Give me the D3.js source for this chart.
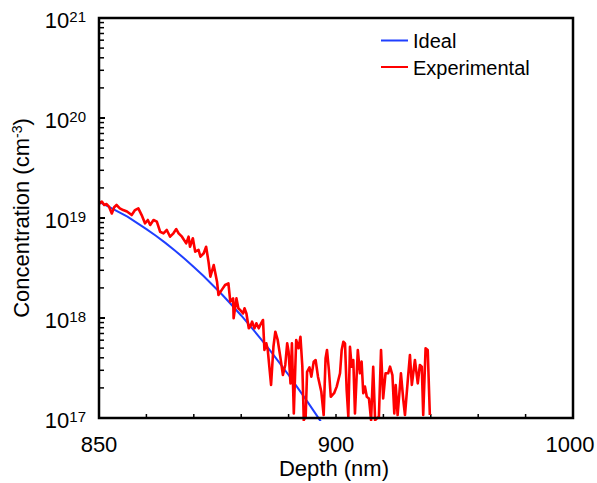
<!DOCTYPE html>
<html>
<head>
<meta charset="utf-8">
<script src="https://cdn.jsdelivr.net/npm/d3@7"></script>
<style>
  body { margin: 0; background: #fff; }
  text { font-family: "Liberation Sans", Arial, sans-serif; fill: #000; }
</style>
</head>
<body>
<div id="chart"></div>
<script>
// ideal profile (depth nm, concentration cm^-3)
const idealDepth = [850, 852, 854, 856, 858, 860, 862, 864, 866, 868, 870, 872, 874,
  876, 878, 880, 882, 884, 886, 888, 890, 892, 894, 896, 897];
const idealConc = [1.45e19, 1.30e19, 1.16e19, 1.03e19, 8.95e18, 7.74e18, 6.64e18, 5.64e18,
  4.73e18, 3.94e18, 3.24e18, 2.64e18, 2.13e18, 1.71e18, 1.35e18, 1.06e18, 8.2e17, 6.3e17,
  4.79e17, 3.6e17, 2.69e17, 1.98e17, 1.45e17, 1.05e17, 8.9e16];

// experimental profile
const expDepth = [850.0, 850.6, 851.1, 851.6, 852.1, 852.7, 853.2, 853.7, 854.4, 855.1,
  855.9, 856.9, 857.6, 858.3, 859.0, 859.7, 860.3, 860.8, 861.5, 862.2, 862.9, 863.6,
  864.3, 865.0, 865.7, 866.3, 866.8, 867.5, 868.4, 868.9, 869.2, 869.8, 870.3, 871.0,
  871.4, 872.1, 872.6, 873.1, 873.5, 874.2, 874.9, 875.2, 875.9, 876.6, 877.3, 877.7,
  878.3, 878.4, 879.0, 879.4, 879.8, 880.4, 880.7, 881.1, 881.6, 881.9, 882.3, 882.8,
  883.2, 883.7, 884.2, 884.6, 884.9, 885.3, 885.6, 886.3, 886.8, 887.2, 887.7, 888.3,
  888.8, 889.3, 889.7, 890.0, 890.4, 890.7, 891.1, 891.6, 892.1, 892.5, 892.9, 893.2,
  893.6, 893.9, 894.4, 894.8, 895.3, 895.7, 896.2, 896.9, 897.4, 897.8, 898.1, 898.5,
  898.9, 899.6, 900.3, 901.7, 902.4, 903.1, 903.8, 904.5, 905.2, 905.9, 906.6, 907.3,
  908.0, 909.2, 910.1, 910.8, 911.5, 912.2, 913.0, 913.9, 914.8, 915.7, 916.5, 917.2,
  918.1, 919.0, 919.9, 920.9, 922.0, 922.8, 923.8, 924.6, 925.2, 926.0, 927.4, 928.4,
  929.1, 930.3, 931.2, 932.0, 933.3, 934.5, 935.4, 936.2, 936.8, 937.8, 938.7, 939.6];
const expConc = [1.38e19, 1.46e19, 1.35e19, 1.38e19, 1.30e19, 1.11e19, 1.28e19, 1.35e19,
  1.25e19, 1.20e19, 1.16e19, 1.07e19, 1.20e19, 1.25e19, 1.07e19, 8.85e18, 9.55e18, 8.51e18,
  9.55e18, 9.18e18, 7.29e18, 7.03e18, 7.59e18, 6.50e18, 7.03e18, 7.76e18, 7.03e18, 6.50e18,
  5.58e18, 6.50e18, 5.16e18, 6.27e18, 4.60e18, 4.79e18, 4.10e18, 4.44e18, 5.16e18, 3.66e18,
  2.59e18, 3.39e18, 2.31e18, 1.70e18, 1.91e18, 2.14e18, 2.22e18, 1.46e18, 1.57e18, 9.93e17,
  1.57e18, 1.25e18, 1.20e18, 1.11e18, 1.25e18, 1.11e18, 7.89e17, 8.18e17, 9.18e17, 7.89e17,
  8.85e17, 7.89e17, 8.85e17, 9.55e17, 4.79e17, 5.58e17, 4.79e17, 2.14e17, 5.16e17, 7.29e17,
  6.03e17, 3.95e17, 2.69e17, 3.39e17, 5.58e17, 4.60e17, 2.22e17, 5.58e17, 1.11e17, 6.03e17,
  4.98e17, 6.50e17, 3.26e17, 9.5e16, 1.03e17, 2.9e17, 3.21e17, 2.59e17, 3.66e17, 3.80e17,
  2.59e17, 1.83e17, 1.07e17, 3.95e17, 4.79e17, 3.02e17, 1.63e17, 1.77e17, 2.06e17, 2.80e17,
  4.79e17, 5.79e17, 5.58e17, 1.91e17, 1.03e17, 5.16e17, 3.26e17, 3.80e17, 1.11e17, 4.79e17,
  2.80e17, 3.66e17, 1.77e17, 2.06e17, 1.63e17, 1.57e17, 9.5e16, 3.26e17, 9.5e16, 9.9e16,
  1.03e17, 4.79e17, 1.57e17, 2.80e17, 2.80e17, 3.26e17, 2.69e17, 1.11e17, 2.14e17, 1.07e17,
  2.80e17, 1.51e17, 1.07e17, 2.40e17, 4.27e17, 2.14e17, 3.80e17, 2.22e17, 3.39e17, 3.26e17,
  1.07e17, 4.98e17, 4.79e17, 1.07e17];

const xMajor = [850, 900, 1000];
const xMinor = [860, 870, 880, 890, 920, 940, 960, 980];
const yExponents = [17, 18, 19, 20, 21];
const seriesNames = ["Ideal", "Experimental"];
const seriesColors = ["#1f3fff", "#ff0000"];

const W = 597, H = 483;
const margin = { top: 18, right: 24, bottom: 65, left: 99 };
const width = W - margin.left - margin.right;
const height = H - margin.top - margin.bottom;

const svg = d3.select("#chart").append("svg")
  .attr("width", W).attr("height", H);

const g = svg.append("g")
  .attr("transform", `translate(${margin.left},${margin.top})`);

// axis is drawn as 850 | 900 | 1000 at equal spacing
const x = d3.scaleLinear().domain([850, 900, 1000]).range([0, width / 2, width]);
const y = d3.scaleLog().domain([1e17, 1e21]).range([height, 0]);

g.append("clipPath").attr("id", "clip")
  .append("rect").attr("width", width).attr("height", height + 3);

// y ticks (inward)
const yMinor = [];
yExponents.slice(0, -1).forEach(e => {
  for (let m = 2; m <= 9; m++) yMinor.push(m * Math.pow(10, e));
});
g.append("g").selectAll("line.minor").data(yMinor).join("line")
  .attr("x1", 0).attr("x2", 5)
  .attr("y1", d => y(d)).attr("y2", d => y(d))
  .attr("stroke", "#000").attr("stroke-width", 1.5);
g.append("g").selectAll("line.major").data(yExponents).join("line")
  .attr("x1", 0).attr("x2", 6)
  .attr("y1", d => y(Math.pow(10, d))).attr("y2", d => y(Math.pow(10, d)))
  .attr("stroke", "#000").attr("stroke-width", 2);

// x ticks (inward)
g.append("g").selectAll("line").data(xMinor.concat(xMajor)).join("line")
  .attr("x1", d => x(d)).attr("x2", d => x(d))
  .attr("y1", height).attr("y2", height - 4)
  .attr("stroke", "#000").attr("stroke-width", 1.5);

// lines
const lineGen = d3.line().x(d => x(d[0])).y(d => y(d[1]));
const plot = g.append("g").attr("clip-path", "url(#clip)");
plot.append("path")
  .datum(idealDepth.map((d, i) => [d, idealConc[i]]))
  .attr("fill", "none").attr("stroke", seriesColors[0]).attr("stroke-width", 2)
  .attr("d", lineGen);
plot.append("path")
  .datum(expDepth.map((d, i) => [d, expConc[i]]))
  .attr("fill", "none").attr("stroke", seriesColors[1]).attr("stroke-width", 2.6)
  .attr("stroke-linejoin", "round")
  .attr("d", lineGen);

// frame
g.append("rect").attr("width", width).attr("height", height)
  .attr("fill", "none").attr("stroke", "#000").attr("stroke-width", 2.5);

// y tick labels
const yLab = g.append("g").selectAll("text").data(yExponents).join("text")
  .attr("x", -13).attr("y", d => y(Math.pow(10, d)) + 10)
  .attr("text-anchor", "end").style("font-size", "22px");
yLab.append("tspan").text("10");
yLab.append("tspan").attr("dy", -6).style("font-size", "15px").text(d => d);

// x tick labels
g.append("g").selectAll("text").data(xMajor).join("text")
  .attr("x", d => d === 1000 ? x(d) - 3 : x(d)).attr("y", height + 34)
  .attr("text-anchor", "middle").style("font-size", "22px")
  .text(d => d);

// axis titles
g.append("text")
  .attr("x", width / 2 - 2).attr("y", height + 58)
  .attr("text-anchor", "middle").style("font-size", "22px")
  .text("Depth (nm)");

const yt = g.append("text")
  .attr("transform", `translate(${-margin.left + 29},${height / 2}) rotate(-90)`)
  .attr("text-anchor", "middle").style("font-size", "22px");
yt.append("tspan").text("Concentration (cm");
yt.append("tspan").attr("dy", -7).style("font-size", "14px").text("-3");
yt.append("tspan").attr("dy", 7).text(")");

// legend
const legend = g.append("g").attr("transform", `translate(${282},${22.5})`);
seriesNames.forEach((name, i) => {
  const row = legend.append("g").attr("transform", `translate(0,${i * 26.5})`);
  row.append("line").attr("x1", 0).attr("x2", 27)
    .attr("stroke", seriesColors[i]).attr("stroke-width", 2);
  row.append("text").attr("x", 32).attr("y", 7.5)
    .style("font-size", "20px").text(name);
});
</script>
</body>
</html>
